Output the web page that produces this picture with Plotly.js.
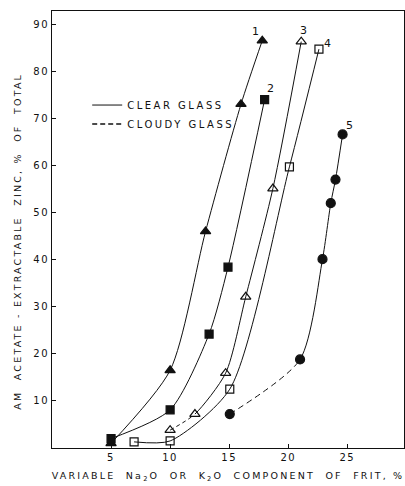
<!DOCTYPE html>
<html><head><meta charset="utf-8">
<script src="https://cdn.plot.ly/plotly-3.0.1.min.js"></script>
<style>
html,body{margin:0;padding:0;background:#fff;}
#chart{width:405px;height:486px;}
.xtitle,.annotation-text{letter-spacing:2.2px;}
.legendtext{letter-spacing:2.5px;}
.xtick text,.ytick text{letter-spacing:1.5px;}
</style>
</head><body>
<div id="chart"></div>
<script>
// Series 1: filled triangles (clear glass)
var s1x = [5, 10, 13, 16, 17.8];
var s1y = [1, 16.5, 46, 73, 86.5];
// Series 2: filled squares (clear glass)
var s2x = [5, 10, 13.3, 14.9, 18.0];
var s2y = [2, 8.1, 24.2, 38.4, 74.0];
// Series 3: open triangles (cloudy up to 12.1, then clear)
var s3x = [10, 12.1, 14.7, 16.4, 18.7, 21.1];
var s3y = [3.8, 7.2, 15.9, 32.1, 55.1, 86.3];
var s3CloudyEnd = 12.1;
// Series 4: open squares (clear glass)
var s4x = [6.95, 10, 15.05, 20.1, 22.6];
var s4y = [1.3, 1.5, 12.5, 59.7, 84.7];
// Series 5: filled circles (cloudy up to 21, then clear)
var s5x = [15.05, 21.0, 22.9, 23.6, 24.0, 24.6];
var s5y = [7.2, 18.8, 40.1, 52.0, 57.0, 66.6];
var s5CloudyEnd = 21.0;
var curveLabels = ['1', '2', '3', '4', '5'];
var xTicks = [5, 10, 15, 20, 25];
var yTicks = [10, 20, 30, 40, 50, 60, 70, 80, 90];

var black = '#111';
var SMOOTH = 0.7;
function lineTrace(x, y) {
  return {x: x, y: y, mode: 'lines', type: 'scatter', showlegend: false, hoverinfo: 'skip',
    line: {color: black, width: 1, shape: 'spline', smoothing: SMOOTH}};
}
function markTrace(x, y, sym, size) {
  return {x: x, y: y, mode: 'markers', type: 'scatter', showlegend: false,
    marker: {symbol: sym, size: size, color: black, line: {color: black, width: 1.2}}};
}
var traces = [
  lineTrace(s1x, s1y),
  lineTrace(s2x, s2y),
  lineTrace(s3x, s3y),
  lineTrace(s4x, s4y),
  lineTrace(s5x, s5y),
  markTrace(s1x, s1y, 'triangle-up', 9),
  markTrace(s2x, s2y, 'square', 8),
  markTrace(s3x, s3y, 'triangle-up-open', 9),
  markTrace(s4x, s4y, 'square-open', 8),
  markTrace(s5x, s5y, 'circle', 9),
  {x: [null], y: [null], mode: 'lines', type: 'scatter', name: 'CLEAR GLASS', line: {color: black, width: 1}},
  {x: [null], y: [null], mode: 'lines', type: 'scatter', name: 'CLOUDY GLASS', line: {color: black, width: 1.5, dash: '5px,3px'}}
];

var lastPts = [[s1x, s1y, -6, 9], [s2x, s2y, 7, 11], [s3x, s3y, 3, 11], [s4x, s4y, 10, 6], [s5x, s5y, 8, 9]];
var annotations = lastPts.map(function (p, i) {
  var n = p[0].length - 1;
  return {x: p[0][n], y: p[1][n], text: curveLabels[i], showarrow: false, xshift: p[2], yshift: p[3],
    font: {family: 'DejaVu Sans', size: 11, color: black}};
});
annotations.push({xref: 'paper', yref: 'paper', x: -0.097, y: 0.474, xanchor: 'center', yanchor: 'middle',
  textangle: -90, showarrow: false, text: 'AM  ACETATE - EXTRACTABLE  ZINC, %  OF  TOTAL',
  font: {family: 'DejaVu Sans', size: 9.5, color: black}});

var layout = {
  width: 405, height: 486,
  margin: {l: 52, r: 1, t: 11, b: 38},
  paper_bgcolor: '#fff', plot_bgcolor: '#fff',
  font: {family: 'DejaVu Sans', size: 10, color: black},
  showlegend: true,
  legend: {x: 0.1, y: 0.818, xanchor: 'left', yanchor: 'top', bgcolor: 'rgba(0,0,0,0)',
    font: {family: 'DejaVu Sans', size: 10, color: black}, tracegroupgap: 0, itemwidth: 30},
  xaxis: {range: [0, 29.8], tickvals: xTicks, ticktext: xTicks.map(String), ticks: 'inside', ticklen: 4,
    tickcolor: black, showline: true, linecolor: black, linewidth: 1, mirror: true, showgrid: false, zeroline: false,
    tickfont: {size: 10}, title: {text: 'VARIABLE  Na<sub>2</sub>O  OR  K<sub>2</sub>O  COMPONENT  OF  FRIT, %', font: {size: 9.5}, standoff: 10}},
  yaxis: {range: [0, 92.8], tickvals: yTicks, ticktext: yTicks.map(String), ticks: 'inside', ticklen: 4,
    tickcolor: black, showline: true, linecolor: black, linewidth: 1, mirror: true, showgrid: false, zeroline: false,
    tickfont: {size: 10}},
  annotations: annotations
};

// Dash the cloudy (low-x) part of a curve, solid for the rest, on the same spline.
function cloudyDash(gd, traceIdx, xEnd, dashLen, gapLen) {
  var tr = gd.querySelectorAll('.scatterlayer .trace')[traceIdx];
  if (!tr) return null;
  var path = tr.querySelector('path.js-line');
  if (!path) return null;
  var px = gd._fullLayout.xaxis.l2p(xEnd);
  var total = path.getTotalLength();
  var lo = 0, hi = total;
  for (var k = 0; k < 40; k++) {
    var mid = (lo + hi) / 2;
    if (path.getPointAtLength(mid).x < px) lo = mid; else hi = mid;
  }
  var L = lo, parts = [], acc = 0;
  while (acc + dashLen + gapLen <= L) { parts.push(dashLen + 'px', gapLen + 'px'); acc += dashLen + gapLen; }
  var rem = L - acc;
  if (rem > 0) {
    if (rem <= dashLen) { parts.push('0px', rem.toFixed(2) + 'px'); }
    else { parts.push(dashLen + 'px', (rem - dashLen).toFixed(2) + 'px'); }
  }
  parts.push(Math.ceil(total + 50) + 'px', '0px');
  return parts.join(',');
}

var gd = document.getElementById('chart');
Plotly.newPlot(gd, traces, layout, {displayModeBar: false, staticPlot: true}).then(function () {
  var d3 = cloudyDash(gd, 2, s3CloudyEnd, 4, 3);
  var d5 = cloudyDash(gd, 4, s5CloudyEnd, 6, 4);
  if (d3) Plotly.restyle(gd, {'line.dash': d3}, [2]);
  if (d5) Plotly.restyle(gd, {'line.dash': d5}, [4]);
});
</script>
</body></html>
